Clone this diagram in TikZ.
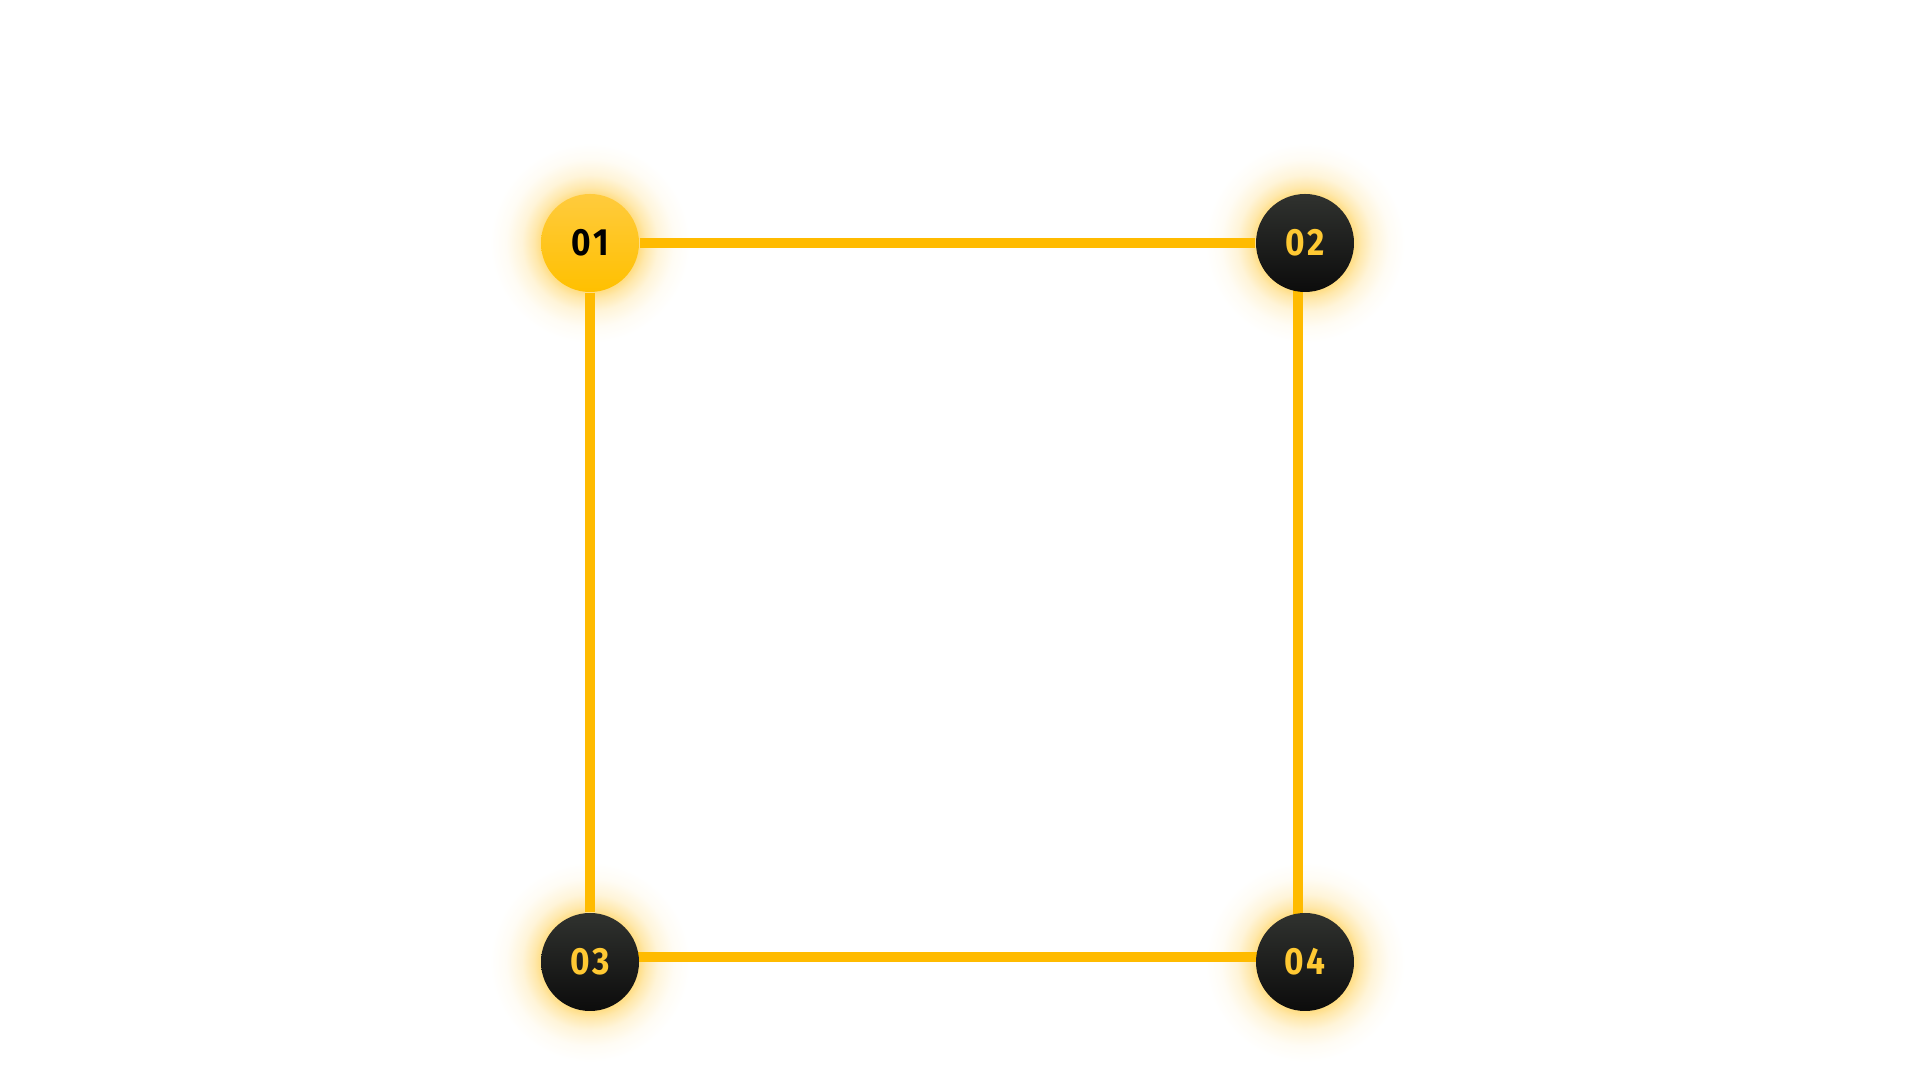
\documentclass[tikz,border=0pt]{standalone}
\usepackage{fontspec}
\setmainfont{Fira Sans}
\newfontfamily\chiffres[FakeStretch=0.88, LetterSpace=8]{Fira Sans}
\usetikzlibrary{positioning, backgrounds}
\definecolor{jaune}{HTML}{FFBB00}
\definecolor{jauneclair}{HTML}{FFCB3D}
\definecolor{jaunefonce}{HTML}{FFC000}
\definecolor{texte}{HTML}{FFC933}
\definecolor{noirhaut}{HTML}{30322F}
\definecolor{noirbas}{HTML}{0C0C0C}
\definecolor{halo}{HTML}{FFDC80}
\pgfdeclareradialshading{lueur}{\pgfpointorigin}{color(0bp)=(halo); color(12bp)=(halo); color(14bp)=(halo!65!white); color(17bp)=(halo!30!white); color(21bp)=(halo!8!white); color(25bp)=(white); color(50bp)=(white)}
\tikzset{
  pastille/.style={circle, minimum size=9.8mm, inner sep=0pt,
    font=\chiffres\fontsize{10.8}{12}\selectfont\bfseries, text=texte,
    top color=noirhaut, bottom color=noirbas},
  pastilleactive/.style={pastille, top color=jauneclair,
    bottom color=jaunefonce, text=black},
  trait/.style={line width=0.95mm, color=jaune}
}
\begin{document}
\begin{tikzpicture}[on grid]
    \useasboundingbox (0,0) rectangle (19.2,10.8);

    % Pastilles
    \node[pastilleactive] (n1) at (5.90,8.37) {01};
    \node[pastille, right=7.15cm of n1] (n2) {02};
    \node[pastille, below=7.19cm of n1] (n3) {03};
    \node[pastille, right=7.15cm of n3] (n4) {04};

    % Halo et liaisons, sous les pastilles
    \begin{scope}[on background layer]
      \foreach \n in {n1,n2,n3,n4}
        \shade[shading=lueur] (\n) circle (10mm);
      \draw[trait] (n1) -- (n2);
      \draw[trait] (n1) -- (n3);
      \draw[trait] ([xshift=-0.7mm]n2.center) -- ([xshift=-0.7mm]n4.center);
      \draw[trait] ([yshift=0.5mm]n3.center) -- ([yshift=0.5mm]n4.center);
    \end{scope}
  \end{tikzpicture}
\end{document}
